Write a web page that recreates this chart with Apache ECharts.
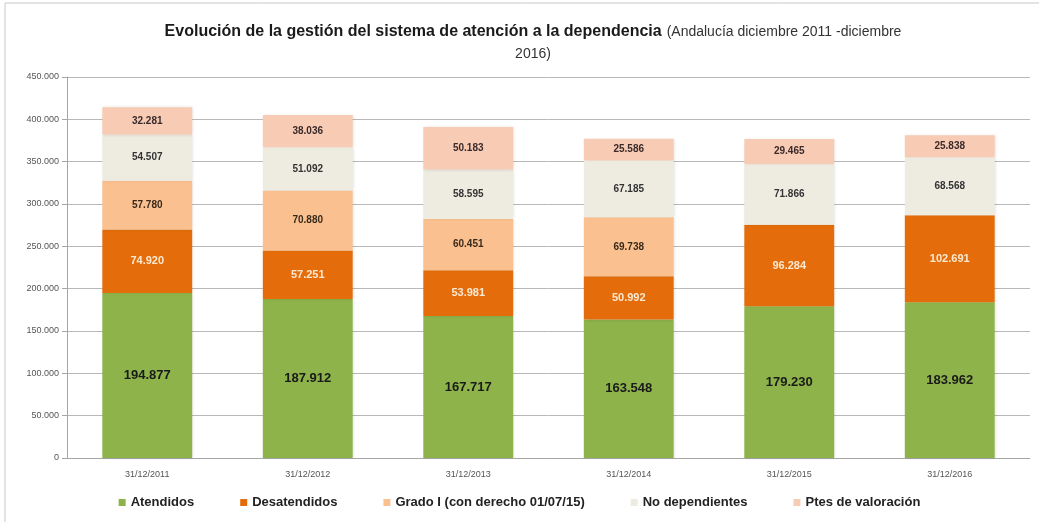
<!DOCTYPE html>
<html>
<head>
<meta charset="utf-8">
<script src="https://cdn.jsdelivr.net/npm/echarts@6/dist/echarts.min.js"></script>
<style>
  html, body { margin: 0; padding: 0; background: #fff; }
  #chart { width: 1039px; height: 522px; }
</style>
</head>
<body>
<div id="chart"></div>
<script>
// data
const categories = ['31/12/2011', '31/12/2012', '31/12/2013', '31/12/2014', '31/12/2015', '31/12/2016']
const atendidos = [194877, 187912, 167717, 163548, 179230, 183962]
const desatendidos = [74920, 57251, 53981, 50992, 96284, 102691]
const gradoI = [57780, 70880, 60451, 69738, 0, 0]
const noDependientes = [54507, 51092, 58595, 67185, 71866, 68568]
const ptesValoracion = [32281, 38036, 50183, 25586, 29465, 25838]
const seriesNames = ['Atendidos', 'Desatendidos', 'Grado I (con derecho 01/07/15)', 'No dependientes', 'Ptes de valoración']
const colors = ['#8db34a', '#e46c0a', '#fac090', '#eeece1', '#f8cbb4']

const fmt = v => String(v).replace(/\B(?=(\d{3})+(?!\d))/g, '.')

const chart = echarts.init(document.getElementById('chart'))

function makeSeries(name, data, color, labelColor, labelSize) {
  return {
    name,
    type: 'bar',
    stack: 'total',
    barWidth: '56%',
    data,
    itemStyle: {
      color,
      shadowColor: 'rgba(0,0,0,0.12)',
      shadowBlur: 3,
      shadowOffsetX: 1
    },
    label: {
      show: true,
      position: 'inside',
      color: labelColor,
      fontSize: labelSize,
      fontWeight: 'bold',
      fontFamily: 'Liberation Sans',
      formatter: p => p.value ? fmt(p.value) : ''
    }
  }
}

chart.setOption({
  animation: false,
  color: colors,
  title: {
    left: 528,
    top: 16,
    textAlign: 'center',
    text: '{b|Evolución de la gestión del sistema de atención a la dependencia} {n|(Andalucía diciembre 2011 -diciembre}\n{n|2016)}',
    textStyle: {
      fontWeight: 'normal',
      rich: {
        b: { fontSize: 16, fontWeight: 'bold', color: '#1a1a1a', fontFamily: 'Liberation Sans', lineHeight: 22 },
        n: { fontSize: 14, fontWeight: 'normal', color: '#333', fontFamily: 'Liberation Sans', lineHeight: 22 }
      }
    }
  },
  legend: {
    bottom: 8,
    left: 'center',
    itemWidth: 7,
    itemHeight: 7,
    itemGap: 46,
    icon: 'rect',
    textStyle: { fontSize: 13, fontWeight: 'bold', color: '#222', fontFamily: 'Liberation Sans' },
    data: seriesNames
  },
  grid: {
    left: 67,
    right: 9,
    top: 77,
    bottom: 64
  },
  xAxis: {
    type: 'category',
    data: categories,
    axisLine: { lineStyle: { color: '#a6a6a6' } },
    axisTick: { show: false },
    axisLabel: { fontSize: 9, color: '#555', margin: 12, fontFamily: 'Liberation Sans' }
  },
  yAxis: {
    type: 'value',
    min: 0,
    max: 450000,
    interval: 50000,
    axisLine: { show: true, lineStyle: { color: '#a6a6a6' } },
    axisTick: { show: true, length: 5, lineStyle: { color: '#a6a6a6' } },
    splitLine: { lineStyle: { color: '#b8b8b8' } },
    axisLabel: { fontSize: 9, color: '#555', fontFamily: 'Liberation Sans', formatter: v => fmt(v) }
  },
  graphic: [{
    type: 'rect',
    shape: { x: 5, y: 3, width: 1040, height: 530 },
    style: { fill: 'none', stroke: '#c8c8c8', lineWidth: 1 },
    silent: true
  }],
  series: [
    makeSeries(seriesNames[0], atendidos, colors[0], '#1a1a1a', 13),
    makeSeries(seriesNames[1], desatendidos, colors[1], '#fbe9d2', 11),
    makeSeries(seriesNames[2], gradoI, colors[2], '#3a2a1a', 10),
    makeSeries(seriesNames[3], noDependientes, colors[3], '#333', 10),
    makeSeries(seriesNames[4], ptesValoracion, colors[4], '#3a2a2a', 10)
  ]
})
</script>
</body>
</html>
